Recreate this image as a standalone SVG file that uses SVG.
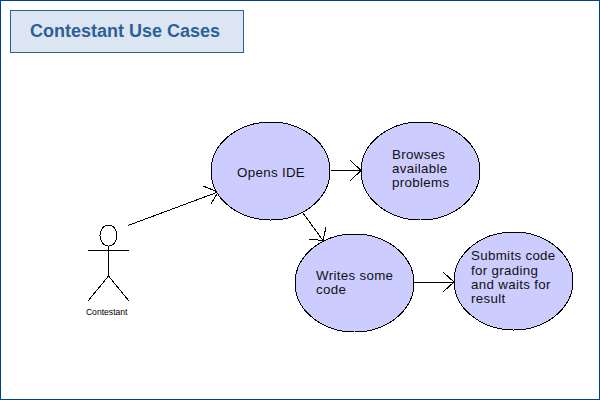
<svg xmlns="http://www.w3.org/2000/svg" width="600" height="400" viewBox="0 0 600 400">
<style>
.uc{fill:#ccccff;stroke:#000;stroke-width:1;shape-rendering:crispEdges}
.ln{fill:none;stroke:#000;stroke-width:1;shape-rendering:crispEdges}
.t{font-family:"Liberation Sans",Arial,sans-serif;font-size:13.33px;letter-spacing:.32px;fill:#111}
</style>
<rect x="0" y="0" width="600" height="400" fill="#fff"/>
<rect x="0.5" y="0.5" width="599" height="399" fill="none" stroke="#00438c" stroke-width="1"/>
<g id="title">
<rect x="10.5" y="10.5" width="233" height="42" fill="#dce6f2" stroke="#2f5f98" stroke-width="1"/>
<text x="30" y="36.500" font-family="'Liberation Sans',Arial,sans-serif" font-size="18" font-weight="700" fill="#2f5f98">Contestant Use Cases</text>
</g>
<g id="connectors">
<path class="ln" d="M128 225.500L218 192M203 186L218 192L211 204"/>
<path class="ln" d="M331 170.500H361M350 160L361 170.500L350 181"/>
<path class="ln" d="M303 213L323 240.500M326 227L323 240.500L309 239"/>
<path class="ln" d="M414 282H454M443 272L454 282L443 292"/>
</g>
<g id="actor-contestant">
<ellipse class="ln" cx="108.500" cy="235.500" rx="8.500" ry="10.500"/>
<path class="ln" d="M88 250.500H129M108.500 246V276M108.500 276L88 301M108.500 276L129 301"/>
<text x="106.700" y="315" text-anchor="middle" font-family="'Liberation Sans',Arial,sans-serif" font-size="8.600" fill="#000">Contestant</text>
</g>
<g id="opens-ide">
<ellipse class="uc" cx="270.500" cy="171" rx="59.500" ry="49"/>
<text class="t" x="237" y="177">Opens IDE</text>
</g>
<g id="browses">
<ellipse class="uc" cx="420.500" cy="171" rx="59.500" ry="49"/>
<text class="t" x="392" y="159">Browses</text>
<text class="t" x="392" y="173">available</text>
<text class="t" x="392" y="187">problems</text>
</g>
<g id="writes-code">
<ellipse class="uc" cx="354.500" cy="283" rx="59.500" ry="49"/>
<text class="t" x="316" y="280">Writes some</text>
<text class="t" x="316" y="294">code</text>
</g>
<g id="submits-code">
<ellipse class="uc" cx="513.500" cy="281" rx="59.500" ry="49"/>
<text class="t" x="471" y="260">Submits code</text>
<text class="t" x="471" y="274.500">for grading</text>
<text class="t" x="471" y="288.500">and waits for</text>
<text class="t" x="471" y="302.500">result</text>
</g>
</svg>
